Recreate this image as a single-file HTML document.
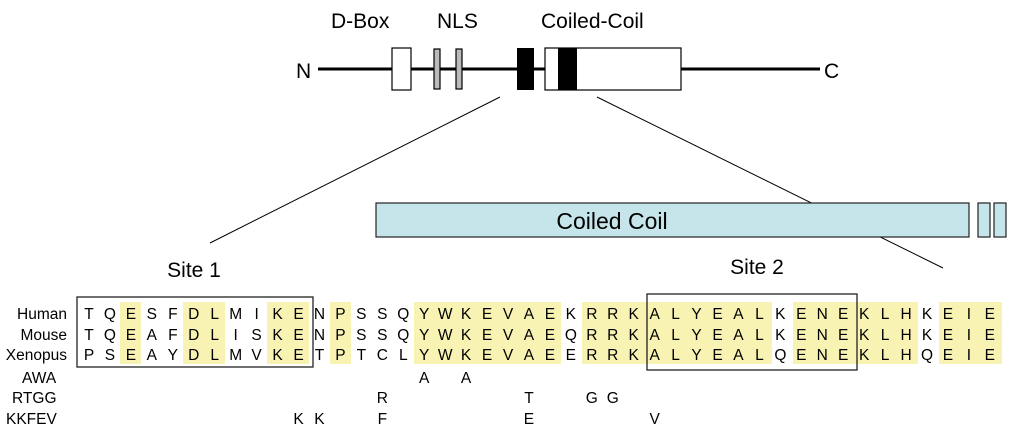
<!DOCTYPE html>
<html><head><meta charset="utf-8"><style>
html,body{margin:0;padding:0;background:#fff;}
svg{display:block;font-family:"Liberation Sans",Arial,sans-serif;}
</style></head><body>
<svg width="1024" height="437" viewBox="0 0 1024 437" xmlns="http://www.w3.org/2000/svg">
<!-- top domain diagram -->
<text x="331" y="28" font-size="21">D-Box</text>
<text x="437" y="28" font-size="21">NLS</text>
<text x="541" y="28" font-size="21">Coiled-Coil</text>
<text x="296" y="78" font-size="21">N</text>
<text x="824" y="78" font-size="21">C</text>
<line x1="318" y1="69" x2="820" y2="69" stroke="#000" stroke-width="3"/>
<rect x="392" y="48" width="19" height="42" fill="#fff" stroke="#000" stroke-width="1.2"/>
<rect x="434" y="49" width="6" height="40" fill="#bbb" stroke="#000" stroke-width="1.2"/>
<rect x="456" y="49" width="6" height="40" fill="#bbb" stroke="#000" stroke-width="1.2"/>
<rect x="517" y="48" width="17" height="42" fill="#000"/>
<rect x="545" y="48" width="136" height="42" fill="#fff" stroke="#000" stroke-width="1.2"/>
<rect x="558" y="48" width="19" height="42" fill="#000"/>
<line x1="500" y1="97" x2="210" y2="243" stroke="#000" stroke-width="1"/>
<line x1="597" y1="97" x2="943" y2="268" stroke="#000" stroke-width="1"/>
<!-- coiled coil -->
<rect x="376" y="203" width="593" height="34" fill="#c5e5ea" stroke="#222" stroke-width="1.2"/>
<rect x="978" y="203" width="12" height="34" fill="#c5e5ea" stroke="#222" stroke-width="1.2"/>
<rect x="994" y="203" width="12" height="34" fill="#c5e5ea" stroke="#222" stroke-width="1.2"/>
<text x="612" y="229" font-size="23" text-anchor="middle">Coiled Coil</text>
<text x="194" y="277" font-size="21" text-anchor="middle">Site 1</text>
<text x="757" y="274" font-size="21" text-anchor="middle">Site 2</text>
<!-- highlights -->
<g fill="#f8f3b2">
<rect x="120" y="302" width="21" height="62"/>
<rect x="183" y="302" width="42" height="62"/>
<rect x="267" y="302" width="42" height="62"/>
<rect x="330" y="302" width="21" height="62"/>
<rect x="414" y="302" width="147" height="62"/>
<rect x="582" y="302" width="190" height="62"/>
<rect x="793" y="302" width="125" height="62"/>
<rect x="939" y="302" width="63" height="62"/>
</g>
<rect x="77" y="297" width="236" height="70" fill="none" stroke="#222" stroke-width="1.3"/>
<rect x="647" y="294" width="210" height="76" fill="none" stroke="#222" stroke-width="1.3"/>
<g font-size="15.5">
<text x="67" y="319" text-anchor="end">Human</text>
<text x="67" y="340" text-anchor="end">Mouse</text>
<text x="67" y="360" text-anchor="end">Xenopus</text>
<text x="22" y="383">AWA</text>
<text x="12" y="403">RTGG</text>
<text x="6" y="424">KKFEV</text>
</g>
<g font-size="15.5" text-anchor="middle" id="seq"></g>
</svg>
<script>
(function(){
var rows=[["TQESFDLMIKENPSSQYWKEVAEKRRKALYEALKENEKLHKEIE",319],
["TQEAFDLISKENPSSQYWKEVAEQRRKALYEALKENEKLHKEIE",340],
["PSEAYDLMVKETPTCLYWKEVAEERRKALYEALQENEKLHQEIE",360]];
var muts=[[[16,"A"],[18,"A"]],[[14,"R"],[21,"T"],[24,"G"],[25,"G"]],[[10,"K"],[11,"K"],[14,"F"],[21,"E"],[27,"V"]]];
var g=document.getElementById("seq"),ns="http://www.w3.org/2000/svg";
function t(x,y,s){var e=document.createElementNS(ns,"text");e.setAttribute("x",x);e.setAttribute("y",y);e.textContent=s;g.appendChild(e);}
rows.forEach(function(r){for(var i=0;i<r[0].length;i++)t(89+i*20.95,r[1],r[0][i]);});
var ys=[383,403,424];
muts.forEach(function(m,k){m.forEach(function(p){t(89+p[0]*20.95,ys[k],p[1]);});});
})();
</script>
</body></html>
